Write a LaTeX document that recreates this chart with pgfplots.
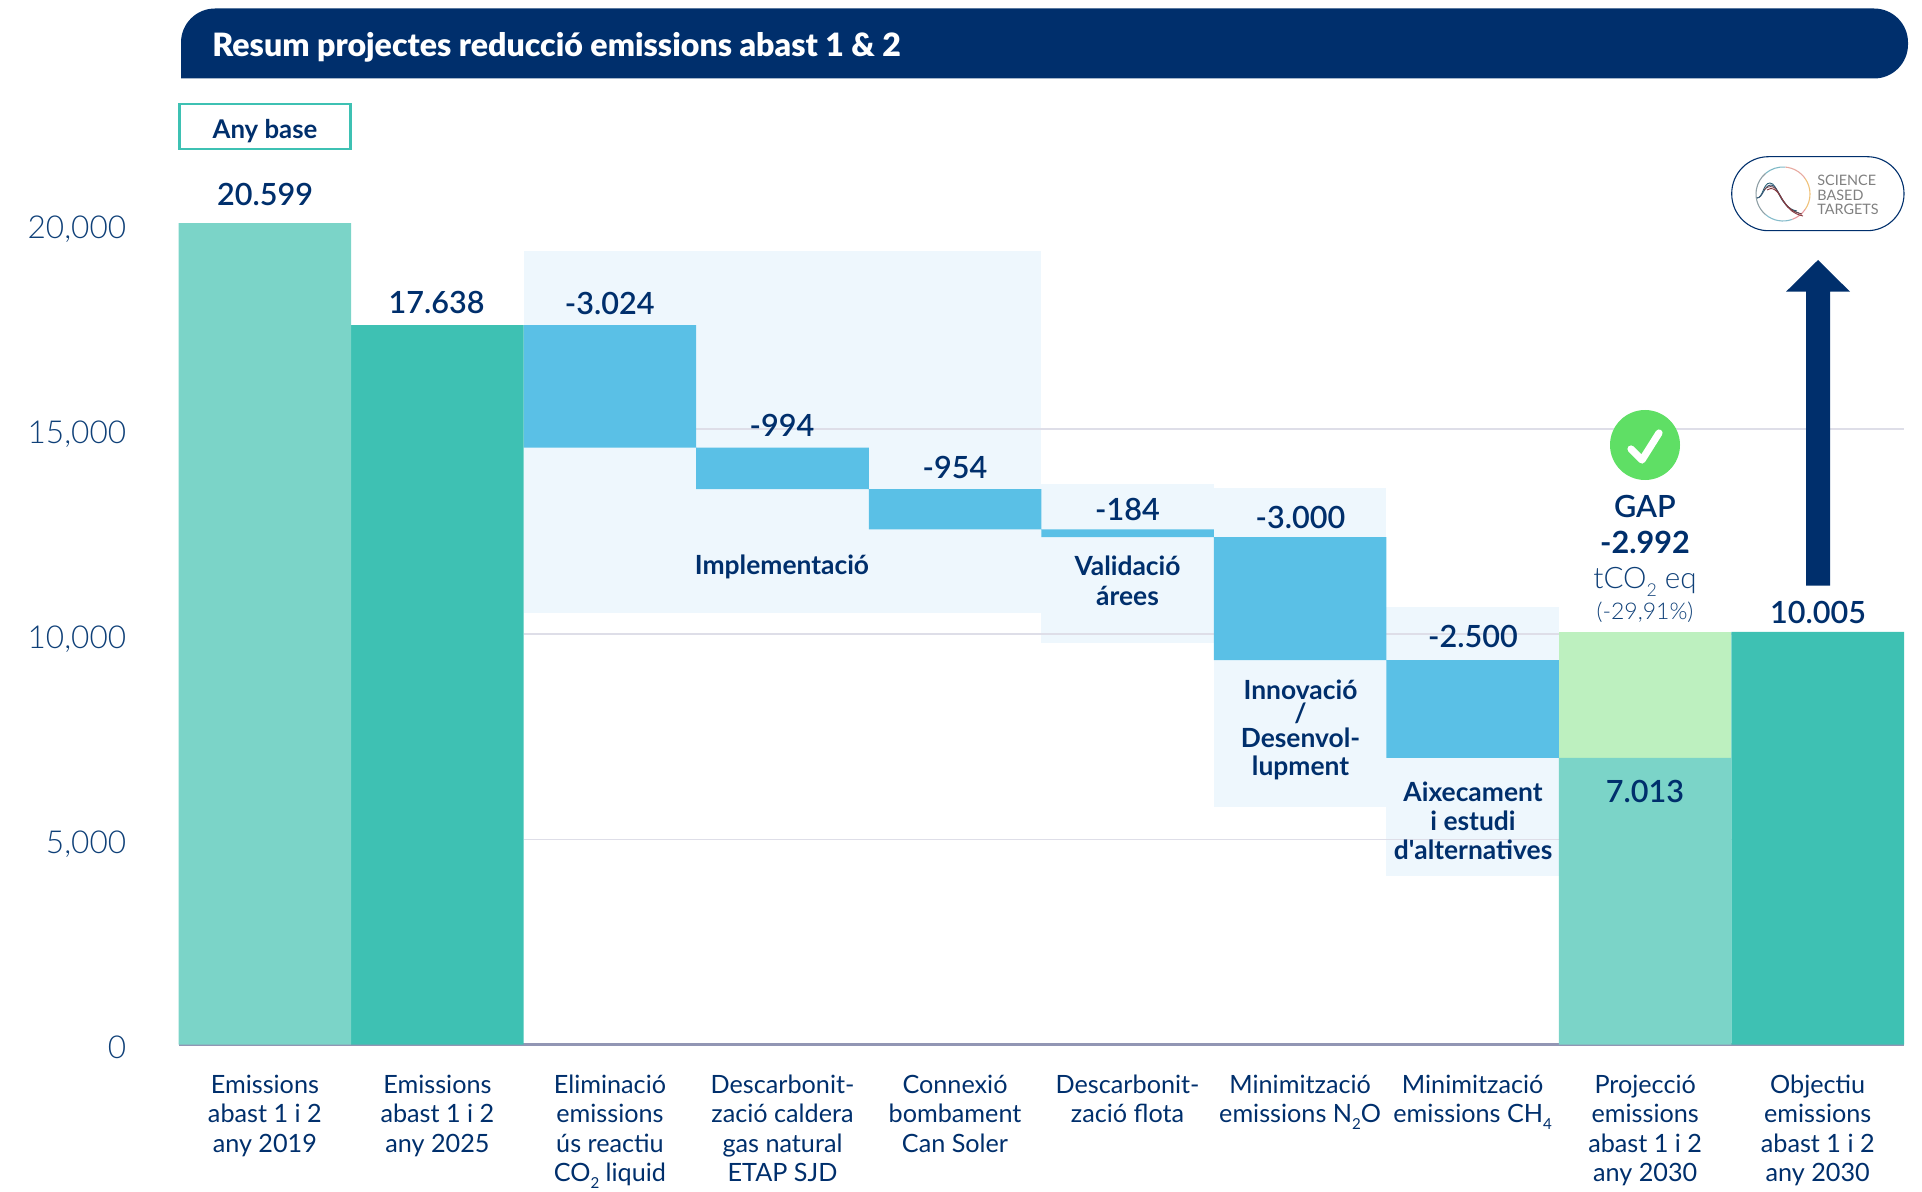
\documentclass[border=0pt]{standalone}
\usepackage{fontspec}
\usepackage{pgfplots}
\pgfplotsset{compat=1.18}
\setmainfont{Lato}
\newfontfamily\lightf{Lato Light}
\newfontfamily\medf{Lato Semibold}
\newfontfamily\heavyf{Lato Black}
\definecolor{navy}{HTML}{002F6C}
\definecolor{tealL}{HTML}{7BD4C8}
\definecolor{teal2}{HTML}{3EC1B3}
\definecolor{blueb}{HTML}{5AC0E6}
\definecolor{greenL}{HTML}{BDF0BF}
\definecolor{palebg}{HTML}{EEF7FD}
\definecolor{gridc}{HTML}{DEDEE8}
\definecolor{axisc}{HTML}{9296B4}
\definecolor{lnavy}{HTML}{0F4078}
\definecolor{checkg}{HTML}{5FDF65}
\newcommand\lowsub[1]{\raisebox{-0.55ex}{\scalebox{.6}{#1}}}
\pgfplotsset{frame/.style={at={(89.3pt,73.25pt)}, anchor=south west,
  scale only axis, width=862.7pt, height=410.75pt,
  xmin=0, xmax=10, ymin=0, ymax=20022}}
\begin{document}
\begin{tikzpicture}
\useasboundingbox (0pt,0pt) rectangle (961pt,595.5pt);
% background axis: pale panels, then grid lines
\begin{axis}[frame, axis lines=none]
\fill[palebg] (axis cs:2,19332) rectangle (axis cs:5,10517);
\fill[palebg] (axis cs:5,13660) rectangle (axis cs:6,9793);
\fill[palebg] (axis cs:6,13563) rectangle (axis cs:7,5796);
\fill[palebg] (axis cs:7,10670) rectangle (axis cs:8,4114);
\draw[gridc, line width=0.8pt] (axis cs:2,5000) -- (axis cs:10,5000);
\draw[gridc, line width=0.8pt] (axis cs:2,10000) -- (axis cs:10,10000);
\draw[gridc, line width=0.8pt] (axis cs:2,15000) -- (axis cs:10,15000);
\end{axis}
% front axis: the bars
\begin{axis}[
  frame,
  ybar stacked, bar width=1,
  axis x line*=bottom, axis y line*=left,
  y axis line style={draw=none},
  x axis line style={draw=axisc, line width=1.3pt, -},
  tick style={draw=none},
  ytick={0,5000,10000,15000,20000},
  scaled y ticks=false,
  xtick={0.5,1.5,2.5,3.5,4.5,5.5,6.5,7.5,8.5,9.5},
  yticklabel style={/pgf/number format/assume math mode=true,/pgf/number format/1000 sep={,},
    font=\lightf\fontsize{15.8}{17}\selectfont, text=lnavy, inner sep=0pt, anchor=base east, xshift=-26pt, yshift=-7.1pt},
  xticklabel style={font=\fontsize{12.6}{14.7}\selectfont, text=navy, align=center, anchor=north, inner sep=0pt, yshift=-15pt},
  xticklabels={
    {Emissions\\abast 1 i 2\\any 2019},
    {Emissions\\abast 1 i 2\\any 2025},
    {Eliminació\\emissions\\ús reactiu\\CO\lowsub{2} liquid},
    {Descarbonit-\\zació caldera\\gas natural\\ETAP SJD},
    {Connexió\\bombament\\Can Soler},
    {Descarbonit-\\zació flota},
    {Minimització\\emissions N\lowsub{2}O},
    {Minimització\\emissions CH\lowsub{4}},
    {Projecció\\emissions\\abast 1 i 2\\any 2030},
    {Objectiu\\emissions\\abast 1 i 2\\any 2030}},
]
\addplot[draw=none, fill=none] coordinates {(0.5,0)(1.5,0)(2.5,14550)(3.5,13539)(4.5,12552)(5.5,12369)(6.5,9371)(7.5,6983)(8.5,0)(9.5,0)};
\addplot[draw=none, fill=tealL] coordinates {(0.5,20599)(1.5,0)(2.5,0)(3.5,0)(4.5,0)(5.5,0)(6.5,0)(7.5,0)(8.5,6983)(9.5,0)};
\addplot[draw=none, fill=teal2] coordinates {(0.5,0)(1.5,17536)(2.5,0)(3.5,0)(4.5,0)(5.5,0)(6.5,0)(7.5,0)(8.5,0)(9.5,10054)};
\addplot[draw=none, fill=blueb] coordinates {(0.5,0)(1.5,0)(2.5,2986)(3.5,1011)(4.5,987)(5.5,183)(6.5,2998)(7.5,2388)(8.5,0)(9.5,0)};
\addplot[draw=none, fill=greenL] coordinates {(0.5,0)(1.5,0)(2.5,0)(3.5,0)(4.5,0)(5.5,0)(6.5,0)(7.5,0)(8.5,3071)(9.5,0)};
\end{axis}
\begin{scope}[shift={(0pt,595.5pt)}, x=0.5pt, y=-0.5pt]
% banner
\fill[navy] (181,78.5) [rounded corners=17pt] -- (181,8.5) -- (1908,8.5) -- (1908,78.5) [sharp corners] -- cycle;
\node[anchor=west, text=white, inner sep=0pt, font=\heavyf\fontsize{16.05}{18}\selectfont] at (212,47.5) {Resum projectes reducció emissions abast 1 \& 2};
% any base
\draw[teal2, line width=1.2pt, fill=white] (179.5,104) rectangle (350.5,149);
\node[text=navy, inner sep=0pt, font=\bfseries\fontsize{12.9}{14}\selectfont] at (265,131) {Any base};
% value labels
\begin{scope}[every node/.style={text=navy, inner sep=0pt, font=\medf\fontsize{15.3}{18}\selectfont}]
\node at (265,194) {20.599};
\node at (436.6,302) {17.638};
\node at (609.8,303.5) {-3.024};
\node at (782,425.5) {-994};
\node at (955,467) {-954};
\node at (1127.5,509) {-184};
\node at (1300.5,517.5) {-3.000};
\node at (1473,636.5) {-2.500};
\node at (1645,791) {7.013};
\node at (1818,612) {10.005};
\node at (1645,506.7) {GAP};
\end{scope}
\node[text=navy, inner sep=0pt, font=\bfseries\fontsize{15.3}{18}\selectfont] at (1645,542.7) {-2.992};
\begin{scope}[every node/.style={text=navy, inner sep=0pt, anchor=base, font=\bfseries\fontsize{13.2}{14.7}\selectfont}]
\node at (782,574.5) {Implementació};
\node at (1127.5,575.5) {Validació};
\node at (1127.5,605) {árees};
\node at (1300.5,699) {Innovació};
\node at (1300.5,722.5) {/};
\node at (1300.5,747) {Desenvol-};
\node at (1300.5,775.5) {lupment};
\node at (1473,801.5) {Aixecament};
\node at (1473,830.5) {i estudi};
\node at (1473,859.5) {d\textquotesingle alternatives};
\end{scope}
\node[text=lnavy, inner sep=0pt, anchor=base, font=\lightf\fontsize{14.8}{16}\selectfont] at (1645,588) {tCO\lowsub{2} eq};
\node[text=lnavy, inner sep=0pt, font=\lightf\fontsize{11.5}{14}\selectfont] at (1645,612) {(-29,91\%)};
% check mark
\fill[checkg] (1645,445) circle[radius=35];
\draw[white, line width=3.6pt, line cap=round, line join=round] (1631,449) -- (1642,460) -- (1659,433);
% arrow
\fill[navy] (1806,585.7) -- (1806,291.7) -- (1786,291.7) -- (1818,260) -- (1850,291.7) -- (1830,291.7) -- (1830,585.7) -- cycle;
% logo pill
\draw[navy, line width=0.55pt, rounded corners=18.4pt] (1731.7,156.7) rectangle (1904,230.7);
% logo ring (y axis of this scope points down, so angles run clockwise)
\begin{scope}[line width=0.55pt]
\def\arcseg#1#2#3{\draw[#3] (1783,194) ++(#1:27) arc[start angle=#1, end angle=#2, radius=27];}
\definecolor{la}{HTML}{8FA0A6}\definecolor{lb}{HTML}{7FB9C6}\definecolor{lc}{HTML}{E7A9A0}
\definecolor{ld}{HTML}{EFC27A}\definecolor{le}{HTML}{E79AA0}\definecolor{lf}{HTML}{86BCCB}
\arcseg{130}{230}{la}
\arcseg{230}{275}{lb}
\arcseg{275}{325}{lc}
\arcseg{325}{395}{ld}
\arcseg{395}{430}{le}
\arcseg{430}{490}{lf}
\end{scope}
\begin{scope}[line width=0.45pt]
\draw[color={rgb:red,60;green,140;blue,170}] (1757,198) .. controls (1763,198) and (1763,183) .. (1770,183) .. controls (1778,183) and (1779,208) .. (1797,211);
\draw[color={rgb:red,70;green,110;blue,150}] (1757,198) .. controls (1763,198) and (1764,185) .. (1771,185) .. controls (1779,185) and (1781,209) .. (1799,213);
\draw[color={rgb:red,220;green,130;blue,140}] (1764,190) .. controls (1766,187) and (1770,186) .. (1773,187) .. controls (1780,189) and (1782,210) .. (1802,214);
\draw[color={rgb:red,220;green,90;blue,100}] (1767,190) .. controls (1769,188) and (1772,188) .. (1775,190) .. controls (1782,194) and (1784,212) .. (1803,216);
\end{scope}
\begin{scope}[every node/.style={text=black!50, anchor=west, inner sep=0pt, font=\fontsize{7.2}{9}\selectfont}]
\node at (1817,180.7) {SCIENCE};
\node at (1817,195) {BASED};
\node at (1817,209) {TARGETS};
\end{scope}
\end{scope}
\end{tikzpicture}
\end{document}
